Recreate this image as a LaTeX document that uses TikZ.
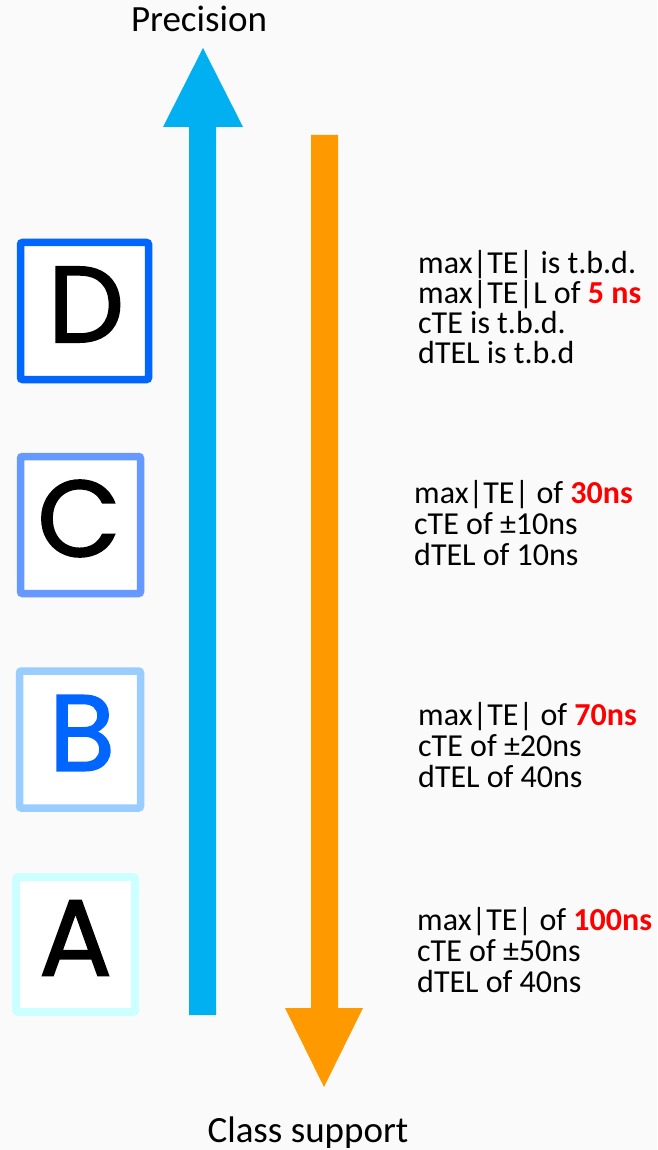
\documentclass[tikz,border=0pt]{standalone}
\usepackage{fontspec}
\setmainfont{Carlito}
\newfontfamily\letterfont{Poppins}[FakeBold=1.6]
\begin{document}
\definecolor{pagebg}{RGB}{250,250,250}
\definecolor{precblue}{RGB}{0,176,240}
\definecolor{supportorange}{RGB}{255,153,0}
\definecolor{classD}{RGB}{0,102,255}
\definecolor{classC}{RGB}{102,153,255}
\definecolor{classB}{RGB}{153,204,255}
\definecolor{classA}{RGB}{204,255,255}
\definecolor{hot}{RGB}{255,0,0}
\begin{tikzpicture}[x=1pt,y=-1pt,
  classbox/.style={draw=#1,line width=7.5pt,rounded corners=2pt,fill=white,
    inner sep=0pt,minimum width=125pt,minimum height=137pt},
  classletter/.style={font=\letterfont\fontsize{108}{108}\selectfont,inner sep=0pt},
  % multi-line nodes: the base anchor sits on the last line
  spec/.style={anchor=base west,align=left,inner sep=0pt,
    font=\fontsize{32}{31}\selectfont},
  axislabel/.style={anchor=base,inner sep=0pt,font=\fontsize{37}{40}\selectfont}]
% page background
\fill[pagebg] (0,0) rectangle (657,1150);
\useasboundingbox (0,0) rectangle (657,1150);

% axis labels
\node[axislabel] (prec) at (199,32) {Precision};
\node[axislabel] (supp) at (308,1142) {Class support};

% upward arrow: precision
\coordinate (pTip) at (203,48);
\fill[precblue] (189,1015) -- (189,127) -- (163,127) -- (pTip) -- (243,127)
  -- (216,127) -- (216,1015) -- cycle;

% downward arrow: class support
\coordinate (sTip) at (324,1087);
\fill[supportorange] (311,135) -- (311,1008) -- (285,1008) -- (sTip) -- (363,1008)
  -- (338,1008) -- (338,135) -- cycle;

% class boxes
\node[classbox=classD,minimum width=128pt] (boxD) at (84.5,311) {};
\node[classletter] (letD) at (86,304.5) {D};
\node[classbox=classC,minimum width=120pt] (boxC) at (80.5,525) {};
\node[classletter] (letC) at (79,518.5) {C};
\node[classbox=classB,minimum width=121pt] (boxB) at (80,739.5) {};
\node[classletter,text=classD] (letB) at (82,733) {B};
\node[classbox=classA,line width=8pt,minimum width=119pt,minimum height=135pt] (boxA) at (75.5,944.5) {};
\node[classletter] (letA) at (75.5,938) {A};

% requirements per class
\node[spec,font=\fontsize{32}{30}\selectfont] (specD) at (418,363)
  {max|TE| is t.b.d.\\max|TE|L of \textcolor{hot}{\bfseries 5 ns}\\cTE is t.b.d.\\dTEL is t.b.d};
\node[spec] (specC) at (414,565)
  {max|TE| of \textcolor{hot}{\bfseries 30ns}\\cTE of ±10ns\\dTEL of 10ns};
\node[spec] (specB) at (418,787)
  {max|TE| of \textcolor{hot}{\bfseries 70ns}\\cTE of ±20ns\\dTEL of 40ns};
\node[spec] (specA) at (417,992)
  {max|TE| of \textcolor{hot}{\bfseries 100ns}\\cTE of ±50ns\\dTEL of 40ns};
\end{tikzpicture}
\end{document}
